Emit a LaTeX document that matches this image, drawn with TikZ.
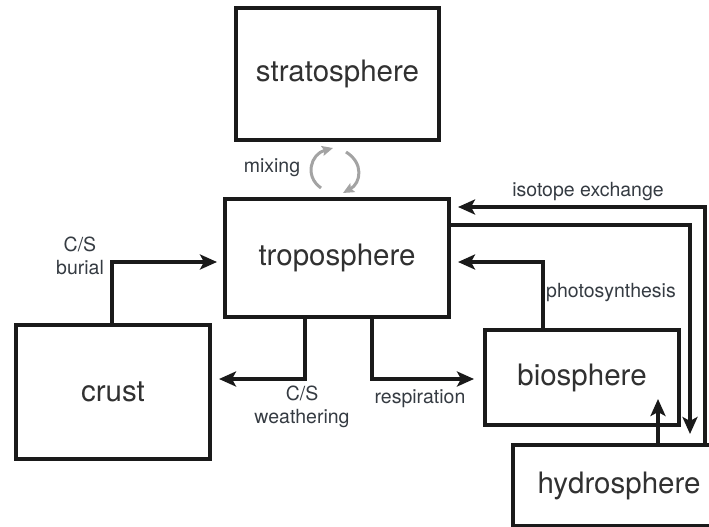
\documentclass[tikz,border=0pt]{standalone}
\usepackage{fontspec}
\setmainfont{TeX Gyre Heros}
\usetikzlibrary{arrows.meta}
\definecolor{lineblk}{HTML}{1A1A1A}
\definecolor{labtxt}{HTML}{353B42}
\definecolor{mixgray}{HTML}{A3A3A3}
\tikzset{
  box/.style={draw=lineblk, line width=4pt, rectangle, inner sep=0pt, anchor=north west,
    font=\fontsize{29.5}{34}\selectfont, text=lineblk!90},
  arr/.style={draw=lineblk, line width=4pt, -{Stealth[length=17pt,width=15pt,inset=4pt]}},
  lab/.style={font=\fontsize{19.5}{23}\selectfont, text=labtxt, align=center, inner sep=0pt},
  garr/.style={draw=mixgray, line width=3pt, -{Stealth[length=11pt,width=10pt,inset=2pt]}}
}
\begin{document}
\begin{tikzpicture}[x=1pt,y=-1pt]
\useasboundingbox (0,0) rectangle (709,527);
\clip (0,0) rectangle (709,527);
% boxes
\node[box, minimum width=203pt, minimum height=132pt] (strat) at (234,6) {stratosphere};
\node[box, minimum width=224pt, minimum height=118pt] (tropo) at (223,197) {troposphere};
\node[box, minimum width=194pt, minimum height=134pt] (crust) at (14,323) {crust};
\node[box, minimum width=194pt, minimum height=95pt] (bio) at (483,328) {biosphere};
\node[box, minimum width=212pt, minimum height=81pt] (hydro) at (511,443) {hydrosphere};
% mixing
\draw[garr] (321,188) .. controls (304,176) and (311,154) .. (333,148);
\draw[garr] (346,152) .. controls (364,163) and (361,183) .. (343,193);
\node[lab] (mixlab) at (272,168) {mixing};
% burial
\draw[arr, shorten >=6pt] (crust.north -| 112,0) |- (tropo.west |- 0,262);
\node[lab] (burlab) at (80,256) {C/S\\burial};
% weathering
\draw[arr, shorten >=7pt] (tropo.south -| 305,0) |- (crust.east |- 0,379);
\node[lab] (weathlab) at (302,407) {C/S\\weathering};
% respiration
\draw[arr, shorten >=9pt] (tropo.south -| 372,0) |- (bio.west |- 0,379);
\node[lab] (resplab) at (420,399) {respiration};
% photosynthesis
\draw[arr, shorten >=7pt] (bio.north -| 543,0) |- (tropo.east |- 0,262);
\node[lab] (photlab) at (611,293) {photosynthesis};
% isotope exchange
\draw[arr, shorten >=7pt] (hydro.north -| 705,0) |- (tropo.east |- 0,207);
\draw[arr, shorten >=9pt] (tropo.east |- 0,225) -| (hydro.north -| 690,0);
\node[lab] (isolab) at (588,192) {isotope exchange};
% hydrosphere to biosphere
\draw[arr, shorten >=-28pt] (hydro.north -| 658,0) -- (bio.south -| 658,0);
\end{tikzpicture}
\end{document}
